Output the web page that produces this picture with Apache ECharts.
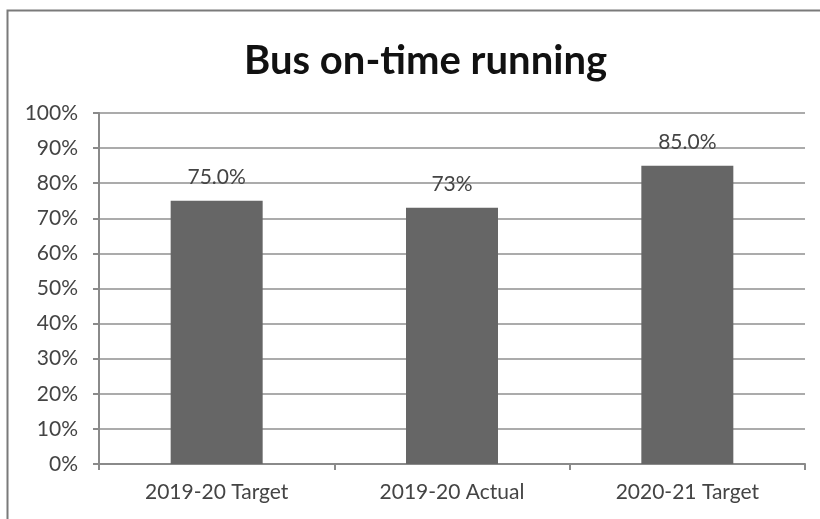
<!DOCTYPE html>
<html>
<head>
<meta charset="utf-8">
<style>
  html, body { margin: 0; padding: 0; background: #fff; }
  #chart { width: 820px; height: 519px; }
</style>
<script src="https://cdn.jsdelivr.net/npm/echarts@6/dist/echarts.min.js"></script>
</head>
<body>
<div id="chart"></div>
<script>
// Bus on-time running: targets and actual result
var categories = ['2019-20 Target', '2019-20 Actual', '2020-21 Target'];
var onTimePct = [75, 73, 85];
var labelDecimals = [1, 0, 1];
var yTicks = [0, 10, 20, 30, 40, 50, 60, 70, 80, 90, 100];

var chart = echarts.init(document.getElementById('chart'), null, { renderer: 'canvas' });
var font = 'Lato, "Open Sans", sans-serif';

chart.setOption({
  animation: false,
  backgroundColor: '#ffffff',
  title: {
    text: 'Bus on-time running',
    left: 239,
    top: 36,
    textStyle: { fontFamily: font, fontWeight: 'bold', fontSize: 40, color: '#111' }
  },
  graphic: [{
    type: 'rect',
    shape: { x: 7.5, y: 10.5, width: 830, height: 530 },
    style: { fill: 'none', stroke: '#7a7a7a', lineWidth: 2 },
    silent: true
  }],
  grid: { left: 99, right: 15, top: 113, bottom: 55 },
  xAxis: {
    type: 'category',
    data: categories,
    axisLine: { lineStyle: { color: '#8a8a8a', width: 2 } },
    axisTick: { show: true, alignWithLabel: false, length: 6, lineStyle: { color: '#8a8a8a', width: 2 } },
    axisLabel: { fontFamily: font, fontSize: 21, color: '#444', margin: 18 }
  },
  yAxis: {
    type: 'value',
    min: yTicks[0],
    max: yTicks[yTicks.length - 1],
    interval: yTicks[1] - yTicks[0],
    axisLine: { show: true, lineStyle: { color: '#8a8a8a', width: 2 } },
    axisTick: { show: true, length: 6, lineStyle: { color: '#8a8a8a', width: 2 } },
    axisLabel: { fontFamily: font, fontSize: 21, color: '#444', margin: 21, formatter: '{value}%' },
    splitLine: { lineStyle: { color: '#ababab', width: 2 } }
  },
  series: [{
    type: 'bar',
    data: onTimePct,
    barWidth: 92,
    itemStyle: { color: '#666666' },
    label: {
      show: true,
      position: 'top',
      distance: 13,
      fontFamily: font,
      fontSize: 21,
      color: '#444',
      formatter: function (p) { return p.value.toFixed(labelDecimals[p.dataIndex]) + '%'; }
    }
  }]
});
</script>
</body>
</html>
